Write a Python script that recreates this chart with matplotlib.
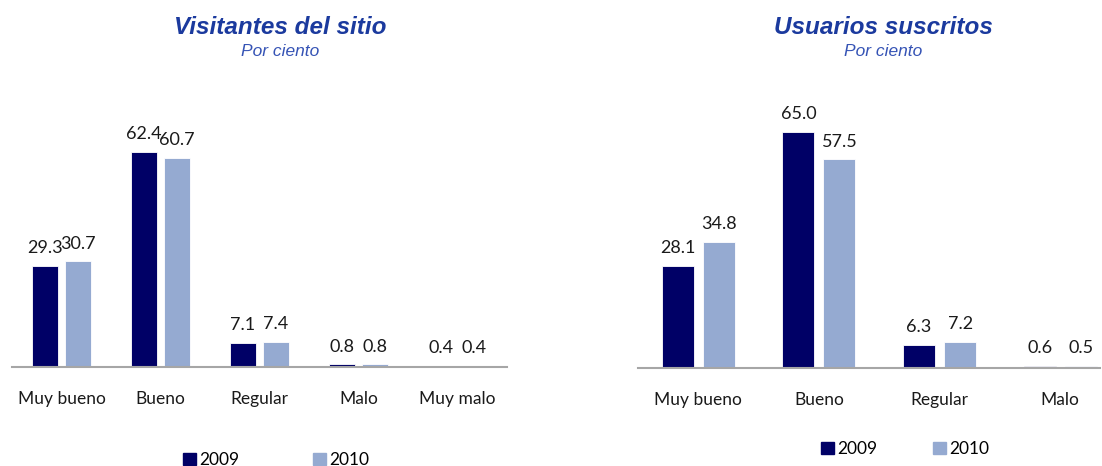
import matplotlib.pyplot as plt
from matplotlib.patches import Patch

cats_left = ['Muy bueno', 'Bueno', 'Regular', 'Malo', 'Muy malo']
left_2009 = [29.3, 62.4, 7.1, 0.8, 0.4]
left_2010 = [30.7, 60.7, 7.4, 0.8, 0.4]

cats_right = ['Muy bueno', 'Bueno', 'Regular', 'Malo']
right_2009 = [28.1, 65.0, 6.3, 0.6]
right_2010 = [34.8, 57.5, 7.2, 0.5]

c09 = '#000066'
c10 = '#95aad1'
title_col = '#1b3a9e'
sub_col = '#3553b5'

plt.rcParams['font.family'] = ['Lato', 'DejaVu Sans']

W, H = 1102, 466
fig = plt.figure(figsize=(W/100, H/100), dpi=100)


def panel(rect, cats, v1, v2, xmax, width, off, title, cx):
    ax = fig.add_axes(rect)
    xs = range(len(cats))
    ax.bar([x - off for x in xs], v1, width, color=c09, edgecolor='white', linewidth=0.6)
    ax.bar([x + off for x in xs], v2, width, color=c10, edgecolor='white', linewidth=0.6)
    for x, a, b in zip(xs, v1, v2):
        ax.annotate('%.1f' % a, (x - off, a), xytext=(0, 7), textcoords='offset points',
                    ha='center', va='bottom', fontsize=13, color='#1a1a1a')
        ax.annotate('%.1f' % b, (x + off, b), xytext=(0, 7), textcoords='offset points',
                    ha='center', va='bottom', fontsize=13, color='#1a1a1a')
    ax.set_xlim(-0.5, xmax)
    ax.set_ylim(0, 70)
    ax.set_xticks(list(xs))
    ax.set_xticklabels(cats, fontsize=12.5, color='#1a1a1a')
    ax.tick_params(axis='x', length=0, pad=17)
    ax.set_yticks([])
    for s in ['top', 'right', 'left']:
        ax.spines[s].set_visible(False)
    ax.spines['bottom'].set_color('#a6a6a6')
    ax.spines['bottom'].set_linewidth(1.5)
    fig.text(cx / W, 1 - 28 / H, title, ha='center', va='center', fontsize=17.5,
             fontweight='bold', style='italic', color=title_col, family='Liberation Sans')
    fig.text(cx / W, 1 - 52 / H, 'Por ciento', ha='center', va='center', fontsize=12.5,
             style='italic', color=sub_col, family='Liberation Sans')
    return ax


panel([12 / W, 99 / H, 495 / W, 241 / H], cats_left, left_2009, left_2010,
      4.5, 0.263, 0.167, 'Visitantes del sitio', 280)
panel([638 / W, 98 / H, 462 / W, 254 / H], cats_right, right_2009, right_2010,
      3.33, 0.266, 0.17, 'Usuarios suscritos', 883)

handles = [Patch(color=c09, label='2009'), Patch(color=c10, label='2010')]
fig.legend(handles=handles, loc='center', bbox_to_anchor=(276 / W, 1 - 460 / H), ncol=2,
           frameon=False, fontsize=12.5, handlelength=0.75, handleheight=0.75,
           handletextpad=0.2, columnspacing=4.2)
fig.legend(handles=handles, loc='center', bbox_to_anchor=(905 / W, 1 - 449 / H), ncol=2,
           frameon=False, fontsize=12.5, handlelength=0.75, handleheight=0.75,
           handletextpad=0.2, columnspacing=3.2)

fig.savefig('out.png', dpi=100)
